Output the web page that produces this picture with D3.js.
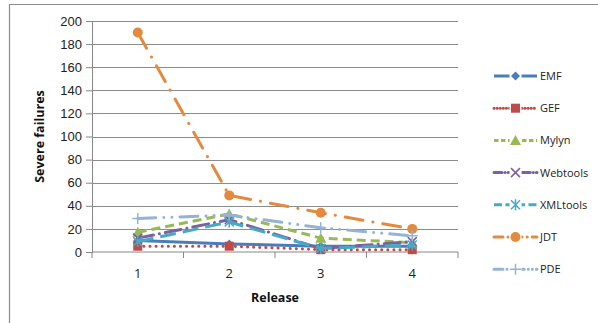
<!DOCTYPE html>
<html>
<head>
<meta charset="utf-8">
<script src="https://cdn.jsdelivr.net/npm/d3@7"></script>
<style>
  body { margin: 0; background: #fff; }
  svg { display: block; font-family: "Open Sans", "Noto Sans", sans-serif; }
</style>
</head>
<body>
<div id="chart"></div>
<script>
const releases = ['1', '2', '3', '4'];
const yTicks = [0, 20, 40, 60, 80, 100, 120, 140, 160, 180, 200];

const seriesNames = ['EMF', 'GEF', 'Mylyn', 'Webtools', 'XMLtools', 'JDT', 'PDE'];
const emf = [10, 7, 5, 5];
const gef = [5, 5, 2, 2];
const mylyn = [17, 33, 12, 8];
const webtools = [12, 28, 3, 9];
const xmltools = [9, 26, 3, 6];
const jdt = [190, 49, 34, 20];
const pde = [29, 32, 21, 14];

const seriesValues = [emf, gef, mylyn, webtools, xmltools, jdt, pde];

// look of each series, roughly matching the office defaults
const styles = {
    'EMF':      { color: '#4a7ebb', dash: null,              marker: 'diamond' },
    'GEF':      { color: '#be4b48', dash: '0.1 6',           marker: 'square', cap: 'round' },
    'Mylyn':    { color: '#98b954', dash: '9 5',             marker: 'triangle' },
    'Webtools': { color: '#7d60a0', dash: '16 6 0.1 6',      marker: 'x', cap: 'round' },
    'XMLtools': { color: '#46aac5', dash: '16 7',            marker: 'star' },
    'JDT':      { color: '#e38a3f', dash: '18 10 0.1 10',    marker: 'circle', cap: 'round' },
    'PDE':      { color: '#95b3d7', dash: '18 8 0.1 8 0.1 8', marker: 'plus', cap: 'round' }
};

const W = 598, H = 323;
const plot = { left: 92, right: 458, top: 21, bottom: 252 };

const svg = d3.select('#chart').append('svg')
    .attr('width', W)
    .attr('height', H);

// chart frame (only the top and left edges show in the picture)
svg.append('path')
    .attr('d', `M9.5,${H} V4.5 H${W}`)
    .attr('fill', 'none')
    .attr('stroke', '#8c8c8c')
    .attr('stroke-width', 1.2);

const x = d3.scaleBand()
    .domain(releases)
    .range([plot.left, plot.right]);

const y = d3.scaleLinear()
    .domain([0, 200])
    .range([plot.bottom, plot.top]);

// horizontal grid + y axis
const yAxis = svg.append('g')
    .attr('transform', `translate(${plot.left},0)`)
    .call(d3.axisLeft(y).tickValues(yTicks).tickSize(6).tickPadding(4));
yAxis.select('.domain').attr('stroke', '#868686');
yAxis.selectAll('.tick line').attr('stroke', '#868686');
yAxis.selectAll('.tick text').attr('font-size', 13).attr('fill', '#222');

svg.append('g')
    .selectAll('line')
    .data(yTicks.filter(d => d > 0))
    .join('line')
    .attr('x1', plot.left)
    .attr('x2', plot.right)
    .attr('y1', d => Math.round(y(d)) + 0.5)
    .attr('y2', d => Math.round(y(d)) + 0.5)
    .attr('stroke', '#8c8c8c')
    .attr('stroke-width', 1.1);

// x axis with ticks between categories
const xAxisG = svg.append('g')
    .attr('transform', `translate(0,${plot.bottom})`);
xAxisG.append('line')
    .attr('x1', plot.left).attr('x2', plot.right)
    .attr('stroke', '#868686');
const bounds = releases.map(d => x(d)).concat([x(releases[releases.length - 1]) + x.bandwidth()]);
xAxisG.selectAll('.xt')
    .data(bounds)
    .join('line')
    .attr('class', 'xt')
    .attr('x1', d => d).attr('x2', d => d)
    .attr('y1', 0).attr('y2', 6)
    .attr('stroke', '#868686');
xAxisG.selectAll('text')
    .data(releases)
    .join('text')
    .attr('x', d => x(d) + x.bandwidth() / 2)
    .attr('y', 26)
    .attr('text-anchor', 'middle')
    .attr('font-size', 13)
    .attr('fill', '#222')
    .text(d => d);

// axis titles
svg.append('text')
    .attr('x', (plot.left + plot.right) / 2)
    .attr('y', 302)
    .attr('text-anchor', 'middle')
    .attr('font-size', 12.5)
    .attr('font-weight', 'bold')
    .attr('fill', '#111')
    .text('Release');

svg.append('text')
    .attr('transform', `translate(44,${(plot.top + plot.bottom) / 2}) rotate(-90)`)
    .attr('text-anchor', 'middle')
    .attr('font-size', 12.5)
    .attr('font-weight', 'bold')
    .attr('fill', '#111')
    .text('Severe failures');

function drawMarker(g, type, color) {
    const s = 4.5;
    if (type === 'diamond') {
        g.append('path').attr('d', `M0,${-s} L${s},0 L0,${s} L${-s},0Z`).attr('fill', color);
    } else if (type === 'square') {
        g.append('rect').attr('x', -s).attr('y', -s).attr('width', 2 * s).attr('height', 2 * s).attr('fill', color);
    } else if (type === 'triangle') {
        g.append('path').attr('d', `M0,${-s - 1} L${s + 1},${s} L${-s - 1},${s}Z`).attr('fill', color);
    } else if (type === 'x') {
        g.append('path').attr('d', `M${-s},${-s} L${s},${s} M${s},${-s} L${-s},${s}`)
            .attr('stroke', color).attr('stroke-width', 1.5).attr('fill', 'none');
    } else if (type === 'star') {
        g.append('path').attr('d', `M${-s},${-s} L${s},${s} M${s},${-s} L${-s},${s} M0,${-s - 1} V${s + 1}`)
            .attr('stroke', color).attr('stroke-width', 1.5).attr('fill', 'none');
    } else if (type === 'circle') {
        g.append('circle').attr('r', s + 0.5).attr('fill', color);
    } else if (type === 'plus') {
        g.append('path').attr('d', `M${-s - 1},0 H${s + 1} M0,${-s - 1} V${s + 1}`)
            .attr('stroke', color).attr('stroke-width', 1.5).attr('fill', 'none');
    }
}

const line = d3.line()
    .x((d, i) => x(releases[i]) + x.bandwidth() / 2)
    .y(d => y(d));

seriesNames.forEach((name, k) => {
    const st = styles[name];
    const vals = seriesValues[k];
    svg.append('path')
        .attr('d', line(vals))
        .attr('fill', 'none')
        .attr('stroke', st.color)
        .attr('stroke-width', 3)
        .attr('stroke-dasharray', st.dash)
        .attr('stroke-linecap', st.cap || 'butt')
        .attr('stroke-linejoin', 'round');
    vals.forEach((v, i) => {
        const g = svg.append('g')
            .attr('transform', `translate(${x(releases[i]) + x.bandwidth() / 2},${y(v)})`);
        drawMarker(g, st.marker, st.color);
    });
});

// legend
const legend = svg.append('g');
seriesNames.forEach((name, k) => {
    const st = styles[name];
    const ly = 76 + k * 32.2;
    const g = legend.append('g').attr('transform', `translate(0,${ly})`);
    g.append('line')
        .attr('x1', 494).attr('x2', 537)
        .attr('stroke', st.color)
        .attr('stroke-width', 3)
        .attr('stroke-dasharray', st.dash ? st.dash.split(' ').map(v => Math.max(+v * 0.5, 0.1)).join(' ') : null)
        .attr('stroke-linecap', st.cap || 'butt');
    const mg = g.append('g').attr('transform', 'translate(515.5,0)');
    mg.insert('rect').attr('x', -6).attr('y', -6).attr('width', 12).attr('height', 12).attr('fill', '#fff');
    drawMarker(mg, st.marker, st.color);
    g.append('text')
        .attr('x', 540)
        .attr('y', 4)
        .attr('font-size', 11)
        .attr('fill', '#222')
        .text(name);
});
</script>
</body>
</html>
